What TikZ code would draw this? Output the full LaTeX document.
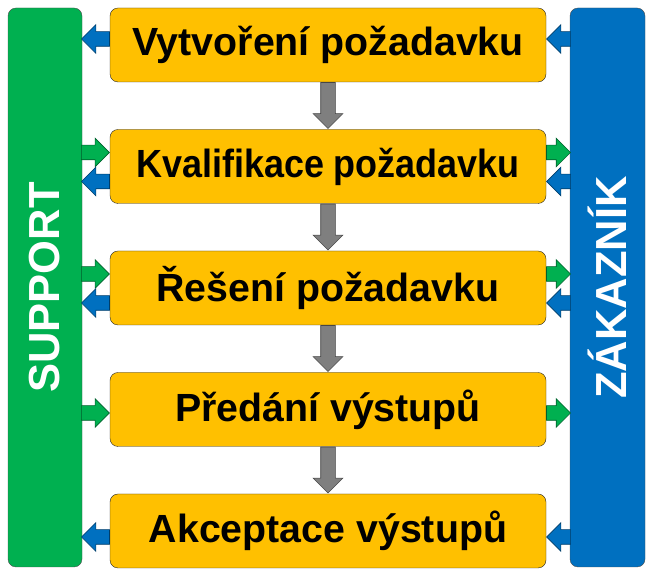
\documentclass[tikz,border=0pt]{standalone}
\usepackage{graphicx}
\usepackage{fontspec}
\setmainfont{Liberation Sans}
\usetikzlibrary{shapes.arrows}
\definecolor{zluta}{HTML}{FFC000}
\definecolor{zelena}{HTML}{00B050}
\definecolor{modra}{HTML}{0070C0}
\definecolor{seda}{HTML}{7F7F7F}

\begin{document}
\begin{tikzpicture} [
        x=1pt, y=1pt,
        krok/.style={
        draw=black!85, fill=zluta,
        minimum width=436pt, minimum height=74pt,
        rounded corners=8pt, inner sep=0pt,
        font=\fontsize{39.3}{39.3}\selectfont\bfseries
        },
        strana/.style n args={2}{
        #1,fill=#1,draw=black!70,
        minimum width=559pt, minimum height=#2,
        rounded corners=8pt, rotate=90,
        text=white, inner sep=0pt,
        font=\fontsize{43.5}{43.5}\selectfont\bfseries
        },
        sipka/.style n args={3}{
        single arrow, fill=#1, draw=#1!55!black, line width=0.6pt,
        minimum height=#2, minimum width=28pt,
        single arrow head extend=7pt,
        inner xsep=0pt, inner ysep=7pt,
        shape border rotate=#3
        }
    ]

    \useasboundingbox (0,0) rectangle (651,577);

    \node[strana = {zelena}{74pt}](sup) at (45,289.5) {SUPPORT};
    \node[strana = {modra}{75pt}](zak) at (607.5,289.5) {ZÁKAZNÍK};

    \node[krok](b1) at (328,532) {Vytvoření požadavku};
    \node[krok](b2) at (328,410.5) {\scalebox{0.915}[1]{Kvalifikace požadavku}};
    \node[krok](b3) at (328,289) {Řešení požadavku};
    \node[krok](b4) at (328,167.5) {Předání výstupů};
    \node[krok](b5) at (328,46) {Akceptace výstupů};

    % sipky dolu
    \foreach \k in {b1,b2,b3,b4}
        \node[sipka = {seda}{46pt}{270}, minimum width=29pt,
              single arrow head extend=7.5pt, inner xsep=7pt, inner ysep=0pt,
              anchor=tail](d\k) at (\k.south) {};

    % vlevo k supportu
    \node[sipka = {modra}{28pt}{180}, anchor=tail](l1) at ([yshift=6pt]b1.west) {};
    \node[sipka = {zelena}{28pt}{0}, anchor=tip](l2a) at ([yshift=14pt]b2.west) {};
    \node[sipka = {modra}{28pt}{180}, anchor=tail](l2b) at ([yshift=-15pt]b2.west) {};
    \node[sipka = {zelena}{28pt}{0}, anchor=tip](l3a) at ([yshift=14pt]b3.west) {};
    \node[sipka = {modra}{28pt}{180}, anchor=tail](l3b) at ([yshift=-15pt]b3.west) {};
    \node[sipka = {zelena}{28pt}{0}, anchor=tip](l4) at ([yshift=-3.5pt]b4.west) {};
    \node[sipka = {modra}{28pt}{180}, anchor=tail](l5) at ([yshift=-6pt]b5.west) {};

    % vpravo k zakaznikovi
    \node[sipka = {modra}{24pt}{180}, anchor=tip](r1) at ([yshift=6pt]b1.east) {};
    \node[sipka = {zelena}{24pt}{0}, anchor=tail](r2a) at ([yshift=14pt]b2.east) {};
    \node[sipka = {modra}{24pt}{180}, anchor=tip](r2b) at ([yshift=-15pt]b2.east) {};
    \node[sipka = {zelena}{24pt}{0}, anchor=tail](r3a) at ([yshift=14pt]b3.east) {};
    \node[sipka = {modra}{24pt}{180}, anchor=tip](r3b) at ([yshift=-15pt]b3.east) {};
    \node[sipka = {zelena}{24pt}{0}, anchor=tail](r4) at ([yshift=-3.5pt]b4.east) {};
    \node[sipka = {modra}{24pt}{180}, anchor=tip](r5) at ([yshift=-6pt]b5.east) {};

\end{tikzpicture}
\end{document}
